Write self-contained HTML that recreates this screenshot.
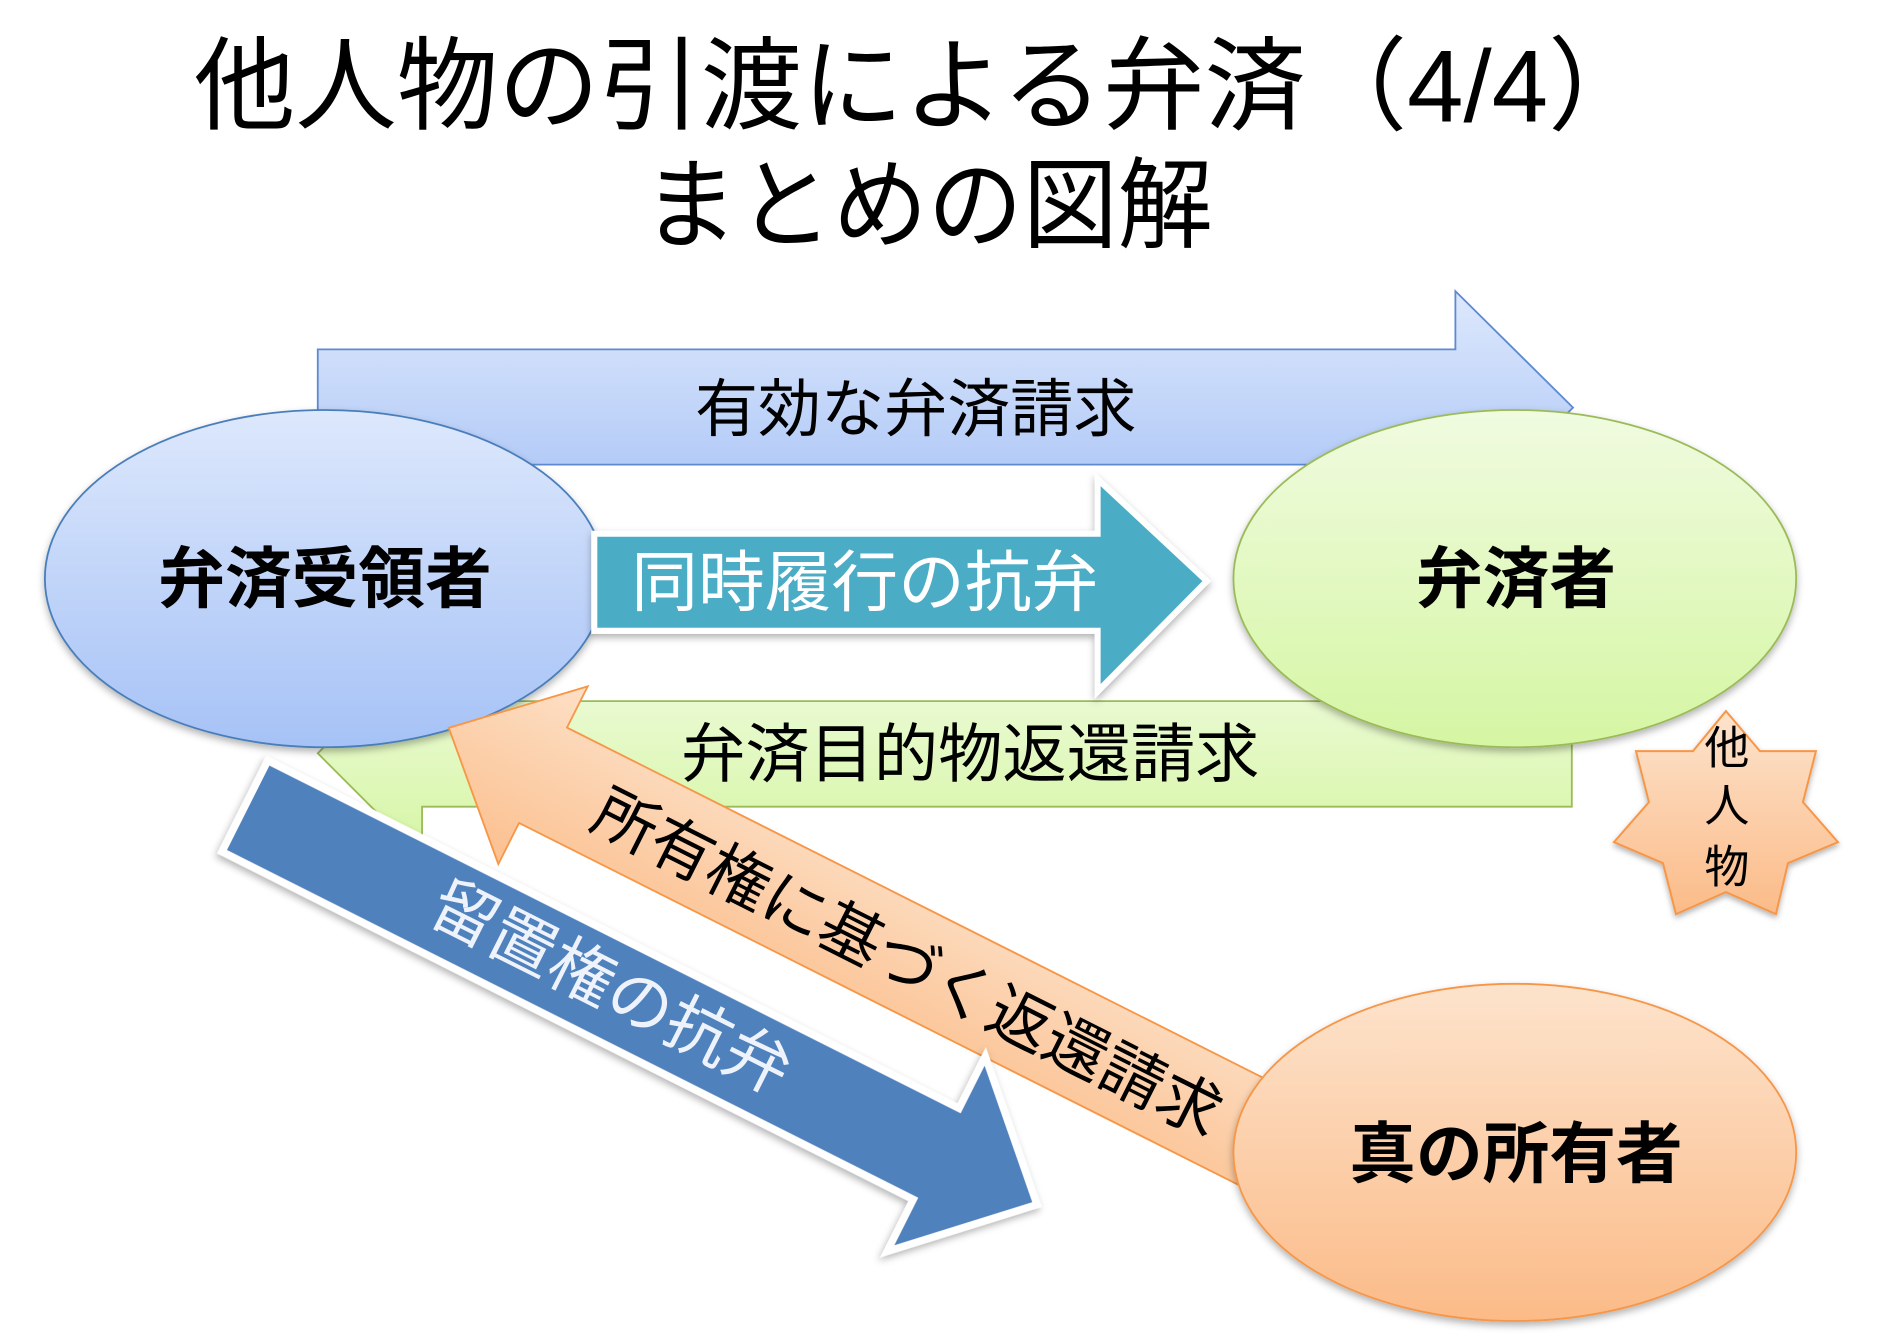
<!DOCTYPE html>
<html><head><meta charset="utf-8">
<style>
html,body{margin:0;padding:0;background:#fff;}
svg{display:block;}
text{font-family:"Liberation Sans","Noto Sans CJK JP",sans-serif;}
</style></head>
<body>
<svg width="1892" height="1338" viewBox="0 0 1560 1103" preserveAspectRatio="none" xmlns="http://www.w3.org/2000/svg">
<defs>
<linearGradient id="gBlue" x1="0" y1="0" x2="0" y2="1"><stop offset="0" stop-color="#dde8fc"/><stop offset="1" stop-color="#a6c2f6"/></linearGradient>
<linearGradient id="gGreen" x1="0" y1="0" x2="0" y2="1"><stop offset="0" stop-color="#f0fbe0"/><stop offset="1" stop-color="#d5f6a3"/></linearGradient>
<linearGradient id="gOr" x1="0" y1="0" x2="0" y2="1"><stop offset="0" stop-color="#fde3cc"/><stop offset="1" stop-color="#fbbb88"/></linearGradient>
<linearGradient id="gOrA" x1="0" y1="0" x2="0" y2="1"><stop offset="0" stop-color="#fde0c6"/><stop offset="1" stop-color="#fbc090"/></linearGradient>
<filter id="sh" x="-10%" y="-10%" width="120%" height="130%"><feDropShadow dx="0" dy="3" stdDeviation="3" flood-color="#000" flood-opacity="0.3"/></filter>
</defs>

<!-- title -->
<text x="760" y="100" font-size="84" text-anchor="middle" textLength="1200" lengthAdjust="spacingAndGlyphs">他人物の引渡による弁済（4/4）</text>
<text x="765" y="198" font-size="82" text-anchor="middle" textLength="470" lengthAdjust="spacingAndGlyphs">まとめの図解</text>

<!-- top blue arrow -->
<polygon points="262,288 1200,288 1200,240 1297,336 1200,432 1200,383 262,383" fill="url(#gBlue)" stroke="#5f8ad0" stroke-width="1.5"/>
<text x="755" y="338" font-size="52" text-anchor="middle" dominant-baseline="central">有効な弁済請求</text>

<!-- green arrow -->
<polygon points="1296,578 348,578 348,535 262,621 348,707 348,665 1296,665" fill="url(#gGreen)" stroke="#9bbb59" stroke-width="1.5"/>
<text x="800" y="622" font-size="53" text-anchor="middle" dominant-baseline="central">弁済目的物返還請求</text>

<!-- ellipses -->
<ellipse cx="268" cy="477" rx="231" ry="139" fill="url(#gBlue)" stroke="#4a7ebb" stroke-width="1.5" filter="url(#sh)"/>
<text x="268" y="478" font-size="55" font-weight="bold" text-anchor="middle" dominant-baseline="central">弁済受領者</text>
<ellipse cx="1249" cy="477" rx="232" ry="139" fill="url(#gGreen)" stroke="#9bbb59" stroke-width="1.5" filter="url(#sh)"/>
<text x="1250" y="478" font-size="55" font-weight="bold" text-anchor="middle" dominant-baseline="central">弁済者</text>

<!-- teal arrow -->
<polygon points="490,440 905,440 905,395 995,479 905,570 905,520 490,520" fill="#4bacc6" stroke="#fff" stroke-width="5" filter="url(#sh)"/>
<text x="713" y="481" font-size="55" fill="#fff" text-anchor="middle" dominant-baseline="central">同時履行の抗弁</text>

<!-- star -->
<g transform="scale(0.8245)">
<polygon points="1726,711 1760,751 1816,751 1803,802 1838,842 1788,863 1776,914 1726,892 1676,914 1663,863 1614,842 1649,802 1636,751 1693,751" fill="url(#gOr)" stroke="#f79646" stroke-width="2" filter="url(#sh)"/>
<text x="1727" y="748" font-size="45" text-anchor="middle" dominant-baseline="central">他</text>
<text x="1727" y="806" font-size="45" text-anchor="middle" dominant-baseline="central">人</text>
<text x="1727" y="867" font-size="45" text-anchor="middle" dominant-baseline="central">物</text>
</g>

<!-- orange diagonal arrow -->
<g transform="translate(370,600) rotate(26.7)">
<polygon points="0,0 87,-82 87,-44 780,-44 780,44 87,44 87,82" fill="url(#gOrA)" stroke="#f79646" stroke-width="1.5"/>
<text x="425" y="4" font-size="52" text-anchor="middle" dominant-baseline="central">所有権に基づく返還請求</text>
</g>

<!-- bottom ellipse -->
<ellipse cx="1249" cy="950" rx="232" ry="139" fill="url(#gOr)" stroke="#f79646" stroke-width="1.5" filter="url(#sh)"/>
<text x="1250" y="952" font-size="55" font-weight="bold" text-anchor="middle" dominant-baseline="central">真の所有者</text>

<!-- dark blue arrow -->
<g transform="translate(855,993) rotate(26.7)">
<polygon points="0,0 -93,-90 -93,-42 -731,-42 -731,42 -93,42 -93,90" fill="#4f81bd" stroke="#fff" stroke-width="6" filter="url(#sh)"/>
<text x="-394" y="-2" font-size="54" fill="#eef3fb" text-anchor="middle" dominant-baseline="central">留置権の抗弁</text>
</g>
</svg>
</body></html>
